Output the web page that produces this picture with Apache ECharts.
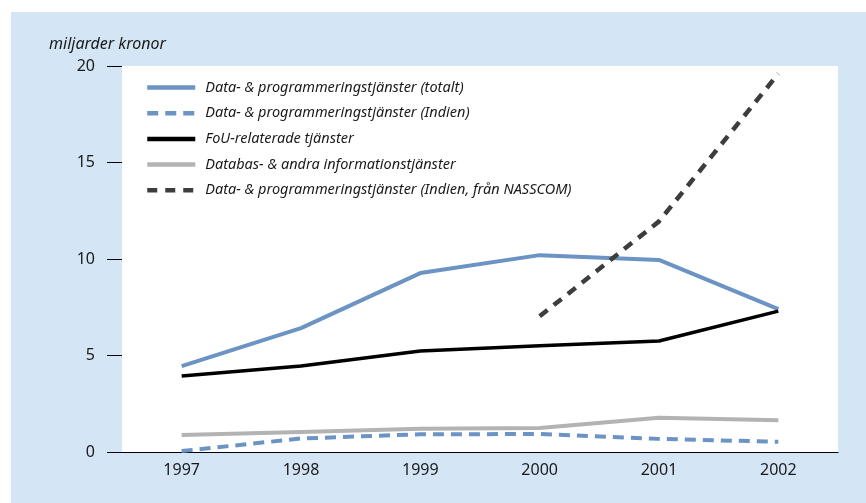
<!DOCTYPE html>
<html><head><meta charset="utf-8">
<script src="https://cdn.jsdelivr.net/npm/echarts@6/dist/echarts.min.js"></script>
<style>html,body{margin:0;padding:0;background:#fff}#c{width:866px;height:503px}</style>
</head><body><div id="c"></div>
<script>
const categories = ['1997','1998','1999','2000','2001','2002'];
const totalt = [4.45, 6.42, 9.27, 10.2, 9.95, 7.4];
const indien = [0.05, 0.7, 0.92, 0.93, 0.68, 0.53];
const fou = [3.94, 4.46, 5.23, 5.5, 5.75, 7.3];
const databas = [0.88, 1.04, 1.2, 1.24, 1.78, 1.65];
const nasscom = [null, null, null, 7.03, 11.95, 19.6];
const names = ['Data- & programmeringstjänster (totalt)','Data- & programmeringstjänster (Indien)','FoU-relaterade tjänster','Databas- & andra informationstjänster','Data- & programmeringstjänster (Indien, från NASSCOM)'];
const font = 'Noto Sans';
const chart = echarts.init(document.getElementById('c'));
function s(name, data, color, type, width){
  return {name, type:'line', data, symbol:'none', connectNulls:false,
    lineStyle:{color, width, type, cap:'butt'}, itemStyle:{color}, z: 3};
}
chart.setOption({
  animation:false,
  backgroundColor:'#ffffff',
  graphic:[{type:'rect', left:11, top:12, shape:{width:855, height:491}, style:{fill:'#d4e6f5'}, z:-10, silent:true}],
  title:{text:'miljarder kronor', left:44, top:31, textStyle:{fontFamily:font, fontStyle:'italic', fontWeight:'normal', fontSize:16, color:'#1a1a1a'}},
  legend:{orient:'vertical', left:145, top:80, padding:0, itemWidth:48, itemHeight:14, itemGap:10.7,
    itemStyle:{opacity:0},
    lineStyle:{width:4.5},
    textStyle:{fontFamily:font, fontStyle:'italic', fontSize:14.5, color:'#1a1a1a', padding:[0,0,0,5]}, data:names},
  grid:{left:122, right:28, top:66, bottom:51, show:true, backgroundColor:'#ffffff', borderWidth:0},
  xAxis:{type:'category', data:categories, boundaryGap:true,
    axisLine:{lineStyle:{color:'#000', width:1.2}}, axisTick:{show:false},
    axisLabel:{fontFamily:font, fontSize:16, color:'#1a1a1a', margin:10}},
  yAxis:{type:'value', min:0, max:20, interval:5,
    axisLine:{show:false}, splitLine:{show:false},
    axisTick:{show:true, length:15, lineStyle:{color:'#000', width:1}},
    axisLabel:{fontFamily:font, fontSize:16, color:'#1a1a1a', margin:27}},
  series:[
    s(names[0], totalt, '#6b93c3', 'solid', 4),
    s(names[1], indien, '#6b93c3', [11,7], 4),
    s(names[2], fou, '#000000', 'solid', 3.5),
    s(names[3], databas, '#b3b3b3', 'solid', 4),
    s(names[4], nasscom, '#3d3d3d', [10,8], 4.5)
  ]
});
</script></body></html>
